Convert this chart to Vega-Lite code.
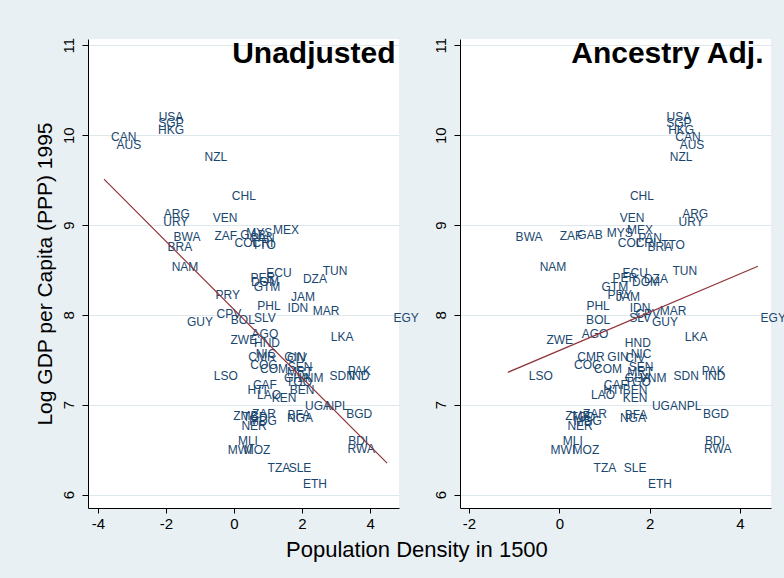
{
"$schema": "https://vega.github.io/schema/vega-lite/v6.json",
"background": "#e9f0f3",
"padding": {"left": 34, "top": 37, "right": 0, "bottom": 20},
"spacing": 13,
"datasets": {
"countries": [
{"code":"USA","pd":-1.85,"pda":2.65,"gdp":10.20},
{"code":"SGP","pd":-1.85,"pda":2.65,"gdp":10.13},
{"code":"HKG","pd":-1.85,"pda":2.70,"gdp":10.06},
{"code":"CAN","pd":-3.24,"pda":2.85,"gdp":9.98},
{"code":"AUS","pd":-3.09,"pda":2.94,"gdp":9.89},
{"code":"NZL","pd":-0.53,"pda":2.70,"gdp":9.76},
{"code":"CHL","pd":0.29,"pda":1.83,"gdp":9.32},
{"code":"ARG","pd":-1.68,"pda":3.01,"gdp":9.12},
{"code":"URY","pd":-1.71,"pda":2.92,"gdp":9.03},
{"code":"VEN","pd":-0.26,"pda":1.61,"gdp":9.08},
{"code":"BWA","pd":-1.38,"pda":-0.67,"gdp":8.87},
{"code":"ZAF","pd":-0.24,"pda":0.26,"gdp":8.88},
{"code":"GAB","pd":0.56,"pda":0.68,"gdp":8.89},
{"code":"MYS","pd":0.74,"pda":1.34,"gdp":8.91},
{"code":"MEX","pd":1.53,"pda":1.79,"gdp":8.94},
{"code":"PAN","pd":0.85,"pda":2.01,"gdp":8.86},
{"code":"COL","pd":0.38,"pda":1.57,"gdp":8.80},
{"code":"CRI","pd":0.85,"pda":1.92,"gdp":8.80},
{"code":"BRA","pd":-1.59,"pda":2.23,"gdp":8.75},
{"code":"TTO","pd":0.88,"pda":2.52,"gdp":8.78},
{"code":"NAM","pd":-1.44,"pda":-0.14,"gdp":8.53},
{"code":"ECU","pd":1.32,"pda":1.68,"gdp":8.47},
{"code":"PER","pd":0.85,"pda":1.45,"gdp":8.41},
{"code":"DZA","pd":2.38,"pda":2.14,"gdp":8.40},
{"code":"TUN","pd":2.97,"pda":2.78,"gdp":8.49},
{"code":"DOM","pd":0.91,"pda":1.92,"gdp":8.36},
{"code":"GTM","pd":0.97,"pda":1.23,"gdp":8.31},
{"code":"PRY","pd":-0.18,"pda":1.34,"gdp":8.22},
{"code":"JAM","pd":2.03,"pda":1.52,"gdp":8.20},
{"code":"PHL","pd":1.03,"pda":0.86,"gdp":8.10},
{"code":"IDN","pd":1.88,"pda":1.79,"gdp":8.08},
{"code":"MAR","pd":2.71,"pda":2.52,"gdp":8.04},
{"code":"EGY","pd":5.06,"pda":4.74,"gdp":7.96},
{"code":"CPV","pd":-0.15,"pda":1.96,"gdp":8.01},
{"code":"SLV","pd":0.91,"pda":1.79,"gdp":7.96},
{"code":"BOL","pd":0.26,"pda":0.86,"gdp":7.94},
{"code":"GUY","pd":-1.00,"pda":2.34,"gdp":7.92},
{"code":"AGO","pd":0.91,"pda":0.79,"gdp":7.79},
{"code":"ZWE","pd":0.29,"pda":0.01,"gdp":7.72},
{"code":"HND","pd":0.97,"pda":1.74,"gdp":7.69},
{"code":"LKA","pd":3.18,"pda":3.03,"gdp":7.75},
{"code":"NIC","pd":0.94,"pda":1.81,"gdp":7.56},
{"code":"CMR","pd":0.82,"pda":0.70,"gdp":7.53},
{"code":"GIN","pd":1.79,"pda":1.30,"gdp":7.53},
{"code":"CIV","pd":1.85,"pda":1.68,"gdp":7.52},
{"code":"COG","pd":0.88,"pda":0.63,"gdp":7.44},
{"code":"COM","pd":1.18,"pda":1.08,"gdp":7.40},
{"code":"SEN","pd":1.94,"pda":1.81,"gdp":7.42},
{"code":"MRT","pd":1.94,"pda":1.79,"gdp":7.36},
{"code":"GHA","pd":1.85,"pda":1.74,"gdp":7.30},
{"code":"VNM","pd":2.24,"pda":2.08,"gdp":7.30},
{"code":"TGO","pd":1.91,"pda":1.74,"gdp":7.25},
{"code":"SDN","pd":3.18,"pda":2.81,"gdp":7.32},
{"code":"PAK","pd":3.68,"pda":3.41,"gdp":7.38},
{"code":"IND","pd":3.68,"pda":3.45,"gdp":7.32},
{"code":"LSO","pd":-0.24,"pda":-0.41,"gdp":7.32},
{"code":"CAF","pd":0.91,"pda":1.25,"gdp":7.22},
{"code":"HTI","pd":0.68,"pda":1.19,"gdp":7.16},
{"code":"LAO","pd":1.03,"pda":0.97,"gdp":7.11},
{"code":"BEN","pd":2.00,"pda":1.68,"gdp":7.16},
{"code":"KEN","pd":1.47,"pda":1.68,"gdp":7.07},
{"code":"UGA","pd":2.47,"pda":2.34,"gdp":6.99},
{"code":"NPL","pd":3.03,"pda":2.89,"gdp":6.98},
{"code":"BGD","pd":3.68,"pda":3.47,"gdp":6.90},
{"code":"ZAR","pd":0.88,"pda":0.79,"gdp":6.90},
{"code":"BFA","pd":1.91,"pda":1.70,"gdp":6.89},
{"code":"NGA","pd":1.94,"pda":1.63,"gdp":6.85},
{"code":"ZMB","pd":0.35,"pda":0.41,"gdp":6.87},
{"code":"TCD","pd":0.62,"pda":0.52,"gdp":6.86},
{"code":"MDG","pd":0.85,"pda":0.63,"gdp":6.82},
{"code":"NER","pd":0.59,"pda":0.46,"gdp":6.76},
{"code":"MLI","pd":0.41,"pda":0.30,"gdp":6.60},
{"code":"MWI","pd":0.18,"pda":0.08,"gdp":6.49},
{"code":"MOZ","pd":0.68,"pda":0.59,"gdp":6.49},
{"code":"BDI","pd":3.65,"pda":3.45,"gdp":6.60},
{"code":"RWA","pd":3.74,"pda":3.51,"gdp":6.51},
{"code":"TZA","pd":1.32,"pda":1.01,"gdp":6.30},
{"code":"SLE","pd":1.94,"pda":1.68,"gdp":6.30},
{"code":"ETH","pd":2.38,"pda":2.23,"gdp":6.12}
],
"fitL": [{"pd":-3.82,"gdp":9.51},{"pd":4.5,"gdp":6.35}],
"fitR": [{"pda":-1.14,"gdp":7.36},{"pda":4.4,"gdp":8.54}]
},
"title": {"text": "Population Density in 1500", "orient": "bottom", "anchor": "middle", "fontSize": 22, "fontWeight": "normal", "color": "#000000", "offset": 9, "dx": 7},
"hconcat": [
{
"width": 311, "height": 469,
"resolve": {"scale": {"x": "independent"}},
"layer": [
{"data": {"name": "countries"},
 "mark": {"type": "text", "fontSize": 12, "color": "#1a476f", "align": "center", "baseline": "middle"},
 "encoding": {
  "x": {"field": "pd", "type": "quantitative", "scale": {"domain": [-4.29, 4.85], "nice": false, "zero": false},
        "axis": {"orient": "bottom", "values": [-4, -2, 0, 2, 4], "title": null, "labelExpr": "datum.value < 0 ? '-' + abs(datum.value) : '' + datum.value"}},
  "y": {"field": "gdp", "type": "quantitative", "scale": {"domain": [5.85, 11.07], "nice": false, "zero": false},
        "axis": {"values": [6, 7, 8, 9, 10, 11], "format": "d", "title": "Log GDP per Capita (PPP) 1995"}},
  "text": {"field": "code", "type": "nominal"}
 }},
{"data": {"name": "fitL"},
 "mark": {"type": "line", "color": "#90353b", "strokeWidth": 1.2},
 "encoding": {
  "x": {"field": "pd", "type": "quantitative", "scale": {"domain": [-4.29, 4.85], "nice": false, "zero": false},
        "axis": {"orient": "top", "title": "Unadjusted", "domain": false, "ticks": false, "labels": false, "grid": false, "titleAnchor": "end", "titleAlign": "right", "titleBaseline": "alphabetic", "titleX": 307, "titleY": 23, "titleFontSize": 30, "titleFontWeight": "bold", "titleColor": "#000000"}},
  "y": {"field": "gdp", "type": "quantitative", "scale": {"domain": [5.85, 11.07], "nice": false, "zero": false}}
 }}
]
},
{
"width": 311, "height": 469,
"resolve": {"scale": {"x": "independent"}},
"layer": [
{"data": {"name": "countries"},
 "mark": {"type": "text", "fontSize": 12, "color": "#1a476f", "align": "center", "baseline": "middle"},
 "encoding": {
  "x": {"field": "pda", "type": "quantitative", "scale": {"domain": [-2.2, 4.69], "nice": false, "zero": false},
        "axis": {"orient": "bottom", "values": [-2, 0, 2, 4], "title": null, "labelExpr": "datum.value < 0 ? '-' + abs(datum.value) : '' + datum.value"}},
  "y": {"field": "gdp", "type": "quantitative", "scale": {"domain": [5.85, 11.07], "nice": false, "zero": false},
        "axis": {"values": [6, 7, 8, 9, 10, 11], "format": "d", "title": null}},
  "text": {"field": "code", "type": "nominal"}
 }},
{"data": {"name": "fitR"},
 "mark": {"type": "line", "color": "#90353b", "strokeWidth": 1.2},
 "encoding": {
  "x": {"field": "pda", "type": "quantitative", "scale": {"domain": [-2.2, 4.69], "nice": false, "zero": false},
        "axis": {"orient": "top", "title": "Ancestry Adj.", "domain": false, "ticks": false, "labels": false, "grid": false, "titleAnchor": "end", "titleAlign": "right", "titleBaseline": "alphabetic", "titleX": 303, "titleY": 23, "titleFontSize": 30, "titleFontWeight": "bold", "titleColor": "#000000"}},
  "y": {"field": "gdp", "type": "quantitative", "scale": {"domain": [5.85, 11.07], "nice": false, "zero": false}}
 }}
]
}
],
"config": {
 "font": "Liberation Sans",
 "view": {"fill": "#ffffff", "stroke": null},
 "axis": {"domainColor": "#000000", "domainWidth": 1, "tickColor": "#000000", "tickWidth": 1, "labelColor": "#000000", "labelFontSize": 15, "titleColor": "#000000", "titleFontSize": 21, "titleFontWeight": "normal", "gridColor": "#dde8ec", "gridWidth": 1},
 "axisX": {"grid": false, "tickSize": 5, "labelPadding": 3},
 "axisY": {"grid": true, "tickSize": 6, "labelAngle": -90, "labelAlign": "center", "labelBaseline": "middle", "labelPadding": 14, "titlePadding": 6}
}
}
